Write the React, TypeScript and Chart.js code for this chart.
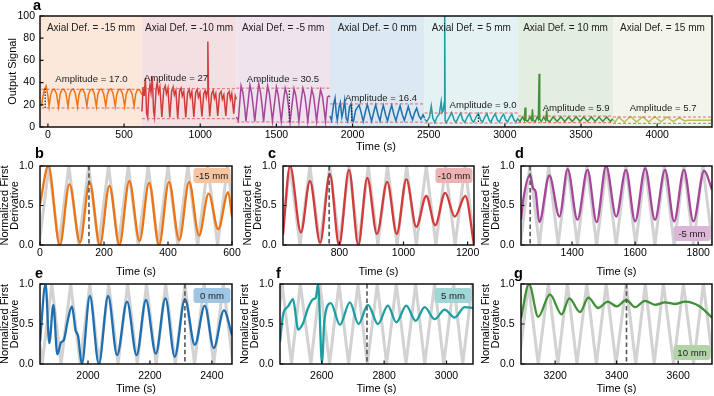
import React, { useEffect, useRef } from "react";
import { Chart, registerables } from "chart.js";

Chart.register(...registerables);

const FONT = "'Liberation Sans', Arial, Helvetica, sans-serif";
Chart.defaults.font.family = FONT;
Chart.defaults.color = "#000";

type Pt = [number, number];

// ---------------- Panel a : raw output signal ----------------
const aXTicks = [0, 500, 1000, 1500, 2000, 2500, 3000, 3500, 4000];
const aYTicks = [0, 20, 40, 60, 80, 100];
const aXRange = [-52, 4360];
const regionEdges = [-60, 617, 1237, 1852, 2473, 3087, 3710, 4400];
const regionNames = [
  "Axial Def. = -15 mm",
  "Axial Def. = -10 mm",
  "Axial Def. = -5 mm",
  "Axial Def. = 0 mm",
  "Axial Def. = 5 mm",
  "Axial Def. = 10 mm",
  "Axial Def. = 15 mm",
];
const amplitudeTexts = [
  "Amplitude = 17.0",
  "Amplitude = 27",
  "Amplitude = 30.5",
  "Amplitude = 16.4",
  "Amplitude = 9.0",
  "Amplitude = 5.9",
  "Amplitude = 5.7",
];
const bandUpper = [34, 34.5, 35, 20.8, 12.6, 9.8, 9.0];
const bandLower = [17.1, 7.5, 4.5, 4.4, 3.6, 3.9, 3.3];
const markerTimes = [-18, 1585, 1995, 2826];
const markerLow = [17.1, 4.5, 5.5, 4.5];
const markerHigh = [36, 34.6, 20.8, 12];

const sigM15: Pt[] = [[-42,19],[-35,26],[-25,33],[-12,37],[0,28],[8,18.5],[18,29],[30,33.5],[43,34],[56,30],[70,18.2],[80,29.5],[92,33.8],[105,34],[118,30.5],[132,18.6],[142,29],[154,33.4],[167,34.2],[180,30],[194,18.4],[204,29.6],[216,33.8],[229,34],[242,30.2],[256,18.8],[266,29.2],[278,33.5],[291,34.1],[304,30.4],[318,18.5],[328,29.5],[340,33.9],[353,34],[366,30.1],[380,18.9],[390,29.1],[402,33.6],[415,34.2],[428,30.3],[442,18.6],[452,29.4],[464,33.7],[477,33.9],[490,30],[504,18.7],[514,29.3],[526,33.6],[539,34],[552,30.2],[566,18.8],[576,29.5],[588,33.5],[601,33.6],[611,31],[617,29]];
const sigM10: Pt[] = [[617,14],[625,36],[632,28],[640,44],[648,12],[655,8.5],[662,30],[670,38],[677,31],[685,45],[694,14],[700,9],[710,34],[718,40],[726,31],[735,36],[748,9],[760,33],[770,37],[778,30],[788,35],[800,8.5],[812,32],[822,36],[830,29],[840,33],[852,8],[864,32],[874,35],[882,28],[892,32],[905,8.5],[917,31],[927,34],[935,27],[945,32],[958,9],[970,31],[980,34],[988,27],[998,31],[1011,9.5],[1023,30],[1033,33],[1040,27],[1046,32],[1050,77],[1054,30],[1062,9.5],[1075,30],[1085,33],[1093,26],[1102,30],[1115,10],[1127,30],[1137,32],[1145,25],[1155,29],[1168,10],[1180,30],[1190,32],[1198,25],[1207,30],[1220,12],[1230,28],[1237,25]];
const sigM5: Pt[] = [[1237,9],[1250,5.5],[1268,37],[1280,31],[1292,18],[1300,5],[1314,22],[1326,38],[1338,30],[1350,16],[1358,5],[1372,24],[1384,39],[1396,31],[1408,17],[1416,4.8],[1430,23],[1442,37],[1454,30],[1466,16],[1474,5.2],[1488,22],[1500,36],[1512,29],[1524,15],[1532,5],[1546,23],[1558,35],[1570,29],[1582,16],[1590,4.6],[1604,22],[1616,34.5],[1628,28],[1640,15],[1648,5],[1662,23],[1674,35],[1686,29],[1698,16],[1706,5.1],[1720,22],[1732,34],[1744,28],[1756,15],[1764,5],[1778,22],[1790,33.5],[1802,28],[1814,15],[1822,5.3],[1836,27],[1845,28],[1852,27]];
const sig0: Pt[] = [[1852,10],[1862,6],[1875,20],[1885,26],[1893,12],[1900,6],[1912,18],[1920,22],[1930,9],[1938,14],[1948,24],[1958,8],[1968,5],[1980,18],[1990,21],[1998,6],[2006,5],[2020,15],[2043,20],[2058,12],[2070,5],[2085,14],[2097,20.5],[2112,12],[2125,5.2],[2140,14],[2152,20],[2167,11],[2180,5.5],[2192,14],[2202,19.5],[2217,11],[2230,5.5],[2245,14],[2257,19.5],[2272,11],[2285,5.5],[2300,13.5],[2312,19],[2327,11],[2340,6],[2355,13],[2366,18.5],[2381,11],[2394,6.5],[2408,13],[2421,17],[2436,10],[2449,7],[2463,11],[2473,8]];
const sigP5: Pt[] = [[2473,7],[2488,5],[2505,9],[2517,19],[2527,8],[2540,4],[2555,9],[2570,12],[2582,23],[2588,13],[2596,15],[2602,22],[2605,110],[2608,6],[2615,4],[2632,8],[2651,13],[2668,6],[2680,4.2],[2695,9],[2710,12.5],[2725,6],[2738,4.3],[2753,9],[2768,12],[2783,6],[2796,4.4],[2811,9],[2826,12.2],[2841,6],[2854,4.5],[2868,9],[2882,12],[2897,6],[2909,4.4],[2923,9],[2937,11.8],[2952,6],[2964,4.5],[2978,9],[2992,11.5],[3007,6],[3019,4.6],[3033,9],[3046,11.5],[3061,6],[3073,4.6],[3087,8]];
const sigP10: Pt[] = [[3087,7],[3100,5],[3115,9],[3128,6],[3133,17.5],[3138,6],[3150,5],[3165,9],[3176,6],[3181,16],[3186,6],[3200,5],[3212,9],[3220,7],[3225,48],[3229,7],[3240,5],[3255,9],[3268,6],[3275,15],[3280,6],[3295,4.8],[3318,9.2],[3343,5],[3368,9.3],[3393,5],[3418,9.1],[3443,5],[3468,9.2],[3493,5.1],[3518,9],[3543,5],[3568,9.1],[3593,5],[3618,8.9],[3643,5],[3668,9],[3693,5.1],[3710,7.5]];
const sigP15: Pt[] = [[3710,6],[3725,4.5],[3745,9],[3785,4.5],[3825,9.5],[3865,4.5],[3905,9.3],[3945,4.6],[3985,9.2],[4025,4.6],[4065,9],[4105,4.8],[4145,8.5],[4180,5.5],[4200,6],[4360,6]];

// ---------------- Panels b-g : normalized first derivative ----------------
const normTicks = [0, 0.5, 1];
const bTicks = [0, 200, 400, 600];
const cTicks = [800, 1000, 1200];
const dTicks = [1400, 1600, 1800];
const eTicks = [2000, 2200, 2400];
const fTicks = [2600, 2800, 3000];
const gTicks = [3200, 3400, 3600];

const derivB: Pt[] = [[0,0.52],[26,1.0],[62,0.0],[92,0.77],[125,0.03],[155,0.8],[187,0.0],[217,0.75],[248,0.0],[279,0.81],[311,0.05],[341,0.79],[372,0.0],[403,0.8],[435,0.06],[466,0.8],[497,0.12],[527,0.65],[557,0.2],[588,0.67],[600,0.36]];
const triB: Pt[] = [[-3,0],[28,1],[59,0],[90,1],[121,0],[152,1],[183,0],[214,1],[245,0],[276,1],[307,0],[338,1],[369,0],[400,1],[431,0],[462,1],[493,0],[524,1],[555,0],[586,1],[617,0]];
const derivC: Pt[] = [[624,0.13],[646,1.0],[680,0.16],[708,0.81],[740,0.03],[770,0.9],[799,0.0],[830,0.95],[859,0.0],[887,0.85],[917,0.14],[949,0.8],[979,0.14],[1009,0.83],[1040,0.23],[1071,0.62],[1099,0.25],[1130,0.66],[1160,0.36],[1193,0.62],[1220,0.0]];
const triC: Pt[] = [[615,0],[646,1],[677,0],[708,1],[739,0],[770,1],[800,0],[830,1],[860,0],[890,1],[920,0],[950,1],[980,0],[1010,1],[1040,0],[1071,1],[1101,0],[1131,1],[1161,0],[1192,1],[1222,0]];
const derivD: Pt[] = [[1238,0.32],[1245,0.57],[1267,0.89],[1276,0.72],[1284,0.68],[1296,0.29],[1328,0.88],[1360,0.36],[1386,0.96],[1417,0.32],[1449,0.95],[1478,0.29],[1508,1.0],[1540,0.36],[1571,0.95],[1600,0.3],[1632,0.97],[1663,0.32],[1695,0.95],[1724,0.3],[1755,0.95],[1785,0.3],[1819,0.94],[1844,0.7]];
const triD: Pt[] = [[1236,0],[1266,1],[1296,0],[1326,1],[1356,0],[1386,1],[1417,0],[1447,1],[1478,0],[1509,1],[1540,0],[1571,1],[1602,0],[1632,1],[1663,0],[1693,1],[1724,0],[1755,1],[1785,0],[1815,1],[1846,0]];
const derivE: Pt[] = [[1845,0.28],[1863,1.0],[1875,0.26],[1888,0.74],[1901,0.12],[1913,0.27],[1922,0.3],[1935,0.55],[1948,0.72],[1960,0.42],[1968,0.35],[1980,0.0],[2006,0.85],[2035,0.0],[2065,0.85],[2094,0.11],[2126,0.78],[2157,0.11],[2187,0.8],[2219,0.13],[2250,0.82],[2280,0.09],[2313,0.81],[2345,0.24],[2377,0.73],[2406,0.2],[2439,0.67],[2465,0.36]];
const triE: Pt[] = [[1822,1],[1852,0],[1883,1],[1913,0],[1944,1],[1975,0],[2006,1],[2036,0],[2067,1],[2097,0],[2128,1],[2159,0],[2189,1],[2220,0],[2251,1],[2282,0],[2313,1],[2344,0],[2375,1],[2406,0],[2437,1],[2468,0]];
const derivF: Pt[] = [[2466,0.28],[2476,0.62],[2492,0.72],[2508,0.81],[2519,0.53],[2524,0.43],[2540,0.51],[2556,0.7],[2572,0.81],[2581,0.83],[2588,1.0],[2601,0.0],[2608,0.53],[2629,0.76],[2658,0.49],[2690,0.77],[2718,0.5],[2748,0.74],[2780,0.5],[2812,0.73],[2839,0.52],[2871,0.73],[2901,0.54],[2930,0.71],[2962,0.56],[2994,0.68],[3026,0.58],[3058,0.71],[3085,0.7]];
const triF: Pt[] = [[2443,0],[2473,1],[2503,0],[2531,1],[2565,0],[2594,1],[2625,0],[2655,1],[2686,0],[2716,1],[2746,0],[2778,1],[2808,0],[2839,1],[2870,0],[2901,1],[2930,0],[2962,1],[2991,0],[3023,1],[3052,0],[3083,1]];
const derivG: Pt[] = [[3089,0.57],[3115,1.0],[3145,0.59],[3183,0.87],[3221,0.62],[3246,0.82],[3281,0.65],[3308,0.83],[3340,0.7],[3371,0.78],[3400,0.72],[3431,0.8],[3460,0.71],[3492,0.79],[3525,0.74],[3557,0.77],[3589,0.75],[3622,0.78],[3670,0.72],[3710,0.58]];
const triG: Pt[] = [[3082,0],[3113,1],[3145,0],[3178,1],[3209,0],[3240,1],[3271,0],[3303,1],[3334,0],[3366,1],[3398,0],[3431,1],[3462,0],[3493,1],[3522,0],[3552,1],[3585,0],[3617,1],[3650,0],[3682,1],[3713,0]];
const dashTimes = [153, 768, 1267, 2313, 2745, 3432];
const badgeTexts = ["-15 mm", "-10 mm", "-5 mm", "0 mm", "5 mm", "10 mm"];

// ---------------- styles ----------------
const C_ORANGE = "#ee7412";
const C_RED = "#d33a3c";
const C_PURPLE = "#a5469b";
const C_BLUE = "#1f6fb0";
const C_TEAL = "#1c9ea3";
const C_GREEN = "#3e9134";
const C_OLIVE = "#b5c157";
const regionColors = ["#fbe8da", "#f4e0e3", "#efe3ee", "#dce9f2", "#e4f2f4", "#e3ede0", "#f4f5ea"];
const regionLineColors = [C_ORANGE, C_RED, C_PURPLE, C_BLUE, C_TEAL, C_GREEN, C_OLIVE];
const amplitudeAnchor: Pt[] = [[286, 42.5], [841, 43.9], [1543, 43], [2187, 25.4], [2857, 19.1], [3468, 16.4], [4039, 16.4]];
const regionLabelY = 89;

const toXY = (arr: Pt[]) => arr.map(([x, y]) => ({ x, y }));

function drawFrame(chart: any, xTicks: number[], yTicks: number[]) {
  const { ctx, chartArea: ca, scales } = chart;
  ctx.save();
  ctx.strokeStyle = "#111";
  ctx.lineWidth = 1.5;
  ctx.strokeRect(ca.left, ca.top, ca.right - ca.left, ca.bottom - ca.top);
  ctx.lineWidth = 1.2;
  ctx.beginPath();
  for (const v of xTicks) {
    const px = scales.x.getPixelForValue(v);
    ctx.moveTo(px, ca.bottom);
    ctx.lineTo(px, ca.bottom - 3.5);
  }
  for (const v of yTicks) {
    const py = scales.y.getPixelForValue(v);
    ctx.moveTo(ca.left, py);
    ctx.lineTo(ca.left + 3.5, py);
  }
  ctx.stroke();
  ctx.restore();
}

function drawLetter(chart: any, letter: string, x: number, y: number) {
  const ctx = chart.ctx;
  ctx.save();
  ctx.font = `bold 14.5px ${FONT}`;
  ctx.fillStyle = "#000";
  ctx.textBaseline = "alphabetic";
  ctx.textAlign = "left";
  ctx.fillText(letter, x, y);
  ctx.restore();
}

type AxisOpts = {
  xMin: number; xMax: number; xTicks: number[];
  yMin: number; yMax: number; yTicks: number[];
  yFmt: (v: number) => string;
  yTitle: string | string[]; yTitleLH: number; yTitlePad: number;
  yWidth: number; yTickPad: number;
  xHeight: number; xTickPad: number; xTitlePad: number;
};

function makeScales(o: AxisOpts) {
  return {
    x: {
      type: "linear",
      min: o.xMin,
      max: o.xMax,
      afterBuildTicks: (s: any) => { s.ticks = o.xTicks.map((v) => ({ value: v })); },
      afterFit: (s: any) => { s.height = o.xHeight; },
      grid: { display: false, drawTicks: false },
      border: { display: false },
      ticks: { font: { size: 10.5, family: FONT }, color: "#000", padding: o.xTickPad, maxRotation: 0, autoSkip: false, callback: (v: any) => String(v) },
      title: { display: true, text: "Time (s)", font: { size: 11, family: FONT }, color: "#000", padding: { top: 0, bottom: o.xTitlePad } },
    },
    y: {
      type: "linear",
      min: o.yMin,
      max: o.yMax,
      afterBuildTicks: (s: any) => { s.ticks = o.yTicks.map((v) => ({ value: v })); },
      afterFit: (s: any) => { s.width = o.yWidth; },
      grid: { display: false, drawTicks: false },
      border: { display: false },
      ticks: { font: { size: 10.5, family: FONT }, color: "#000", padding: o.yTickPad, autoSkip: false, callback: (v: any) => o.yFmt(Number(v)) },
      title: { display: true, text: o.yTitle, font: { size: 11, family: FONT, lineHeight: o.yTitleLH }, color: "#000", padding: { top: o.yTitlePad, bottom: 0 } },
    },
  };
}

type Box = { x: number; y: number; w: number; h: number };

function ChartBox({ box, build }: { box: Box; build: () => any }) {
  const ref = useRef<HTMLCanvasElement>(null);
  useEffect(() => {
    const chart = new Chart(ref.current as HTMLCanvasElement, build());
    return () => chart.destroy();
  }, []);
  return (
    <canvas
      ref={ref}
      width={box.w}
      height={box.h}
      style={{ position: "absolute", left: box.x, top: box.y, width: box.w, height: box.h }}
    />
  );
}

// ---------------- Panel a config ----------------
const boxA: Box = { x: 0, y: 0, w: 714, h: 156 };

function buildA() {
  const signals = [sigM15, sigM10, sigM5, sig0, sigP5, sigP10, sigP15];
  const datasets: any[] = [];
  signals.forEach((s, i) => {
    datasets.push({ data: toXY(s), borderColor: regionLineColors[i], borderWidth: 1.5, pointRadius: 0, tension: 0, order: 2 });
  });
  for (let i = 0; i < 7; i++) {
    const x0 = Math.max(regionEdges[i], -42);
    const x1 = Math.min(regionEdges[i + 1], aXRange[1]);
    for (const yv of [bandUpper[i], bandLower[i]]) {
      datasets.push({ data: [{ x: x0, y: yv }, { x: x1, y: yv }], borderColor: "rgba(226,80,90,0.85)", borderWidth: 1, borderDash: [3, 2], pointRadius: 0, order: 1 });
    }
  }
  markerTimes.forEach((t, i) => {
    datasets.push({ data: [{ x: t, y: markerLow[i] }, { x: t, y: markerHigh[i] }], borderColor: "#222", borderWidth: 1.2, borderDash: [1.5, 1.5], pointRadius: 0, order: 0 });
  });

  const plugin = {
    id: "panelA",
    beforeDatasetsDraw(chart: any) {
      const { ctx, chartArea: ca, scales } = chart;
      ctx.save();
      ctx.beginPath();
      ctx.rect(ca.left, ca.top, ca.right - ca.left, ca.bottom - ca.top);
      ctx.clip();
      for (let i = 0; i < regionColors.length; i++) {
        const x0 = scales.x.getPixelForValue(regionEdges[i]);
        const x1 = scales.x.getPixelForValue(regionEdges[i + 1]);
        ctx.fillStyle = regionColors[i];
        ctx.fillRect(x0, ca.top, x1 - x0, ca.bottom - ca.top);
      }
      ctx.restore();
    },
    afterDatasetsDraw(chart: any) {
      const { ctx, scales } = chart;
      ctx.save();
      ctx.fillStyle = "#222";
      ctx.textAlign = "center";
      ctx.textBaseline = "middle";
      ctx.font = `10px ${FONT}`;
      for (let i = 0; i < regionNames.length; i++) {
        const a = Math.max(regionEdges[i], aXRange[0]);
        const b = Math.min(regionEdges[i + 1], aXRange[1]);
        const cx = (scales.x.getPixelForValue(a) + scales.x.getPixelForValue(b)) / 2;
        ctx.fillText(regionNames[i], cx, scales.y.getPixelForValue(regionLabelY));
      }
      ctx.font = `9.6px ${FONT}`;
      amplitudeTexts.forEach((t, i) => {
        ctx.fillText(t, scales.x.getPixelForValue(amplitudeAnchor[i][0]), scales.y.getPixelForValue(amplitudeAnchor[i][1]));
      });
      ctx.restore();
      drawFrame(chart, aXTicks, aYTicks);
    },
    afterDraw(chart: any) {
      drawLetter(chart, "a", 33 - boxA.x, 10 - boxA.y);
    },
  };

  return {
    type: "line",
    data: { datasets },
    options: {
      animation: false,
      responsive: false,
      events: [],
      layout: { autoPadding: false, padding: { left: 0, top: 16, right: 2, bottom: 0 } },
      plugins: { legend: { display: false }, tooltip: { enabled: false } },
      scales: makeScales({
        xMin: aXRange[0], xMax: aXRange[1], xTicks: aXTicks,
        yMin: 0, yMax: 100, yTicks: aYTicks, yFmt: (v) => String(v),
        yTitle: "Output Signal", yTitleLH: 1.2, yTitlePad: 5.9,
        yWidth: 40, yTickPad: 5,
        xHeight: 29, xTickPad: 1.7, xTitlePad: 2.4,
      }),
    },
    plugins: [plugin],
  };
}

// ---------------- Panels b-g config ----------------
type Small = {
  letter: string; letterPos: Pt;
  curve: Pt[]; tri: Pt[]; color: string;
  badge: string; badgeColor: string; badgeAt: "top" | "bottom";
  dash: number; xMin: number; xMax: number; xTicks: number[];
  L: number; R: number; row: 1 | 2;
};

const smallPanels: Small[] = [
  { letter: "b", letterPos: [35, 158], curve: derivB, tri: triB, color: C_ORANGE, badge: badgeTexts[0], badgeColor: "#f6c4a0", badgeAt: "top", dash: dashTimes[0], xMin: 0, xMax: 600, xTicks: bTicks, L: 40, R: 232, row: 1 },
  { letter: "c", letterPos: [268, 158], curve: derivC, tri: triC, color: C_RED, badge: badgeTexts[1], badgeColor: "#edb2b2", badgeAt: "top", dash: dashTimes[1], xMin: 624, xMax: 1220, xTicks: cTicks, L: 283, R: 474, row: 1 },
  { letter: "d", letterPos: [515, 158], curve: derivD, tri: triD, color: C_PURPLE, badge: badgeTexts[2], badgeColor: "#dbb6d6", badgeAt: "bottom", dash: dashTimes[2], xMin: 1238, xMax: 1844, xTicks: dTicks, L: 521, R: 712, row: 1 },
  { letter: "e", letterPos: [35, 277.5], curve: derivE, tri: triE, color: C_BLUE, badge: badgeTexts[3], badgeColor: "#9fc6e4", badgeAt: "top", dash: dashTimes[3], xMin: 1845, xMax: 2465, xTicks: eTicks, L: 40, R: 232, row: 2 },
  { letter: "f", letterPos: [276, 277.5], curve: derivF, tri: triF, color: C_TEAL, badge: badgeTexts[4], badgeColor: "#9fd6d6", badgeAt: "top", dash: dashTimes[4], xMin: 2466, xMax: 3085, xTicks: fTicks, L: 280, R: 473, row: 2 },
  { letter: "g", letterPos: [514, 277.5], curve: derivG, tri: triG, color: C_GREEN, badge: badgeTexts[5], badgeColor: "#b3d4a6", badgeAt: "bottom", dash: dashTimes[5], xMin: 3089, xMax: 3710, xTicks: gTicks, L: 521, R: 712, row: 2 },
];

const rowSpec = {
  1: { top: 140, h: 140, T: 166, B: 245, xTickPad: 2.2, xTitlePad: 1.9, badgeTopInset: 2 },
  2: { top: 262, h: 134, T: 284, B: 364, xTickPad: 5.7, xTitlePad: 0, badgeTopInset: 4 },
};

function smallBox(p: Small): Box {
  const r = rowSpec[p.row];
  const pr = p.R >= 710 ? 2 : 12;
  return { x: p.L - 45, y: r.top, w: p.R - p.L + 45 + pr, h: r.h };
}

function roundRect(ctx: any, x: number, y: number, w: number, h: number, r: number) {
  ctx.beginPath();
  ctx.moveTo(x + r, y);
  ctx.lineTo(x + w - r, y);
  ctx.quadraticCurveTo(x + w, y, x + w, y + r);
  ctx.lineTo(x + w, y + h - r);
  ctx.quadraticCurveTo(x + w, y + h, x + w - r, y + h);
  ctx.lineTo(x + r, y + h);
  ctx.quadraticCurveTo(x, y + h, x, y + h - r);
  ctx.lineTo(x, y + r);
  ctx.quadraticCurveTo(x, y, x + r, y);
  ctx.closePath();
}

function buildSmall(p: Small) {
  const r = rowSpec[p.row];
  const box = smallBox(p);
  const pr = box.w - (p.R - box.x);
  const plugin = {
    id: "small" + p.letter,
    afterDatasetsDraw(chart: any) {
      const { ctx, chartArea: ca, scales } = chart;
      ctx.save();
      const dx = scales.x.getPixelForValue(p.dash);
      ctx.strokeStyle = "#555";
      ctx.lineWidth = 1.6;
      ctx.setLineDash([4.5, 2.8]);
      ctx.beginPath();
      ctx.moveTo(dx, ca.top);
      ctx.lineTo(dx, ca.bottom);
      ctx.stroke();
      ctx.setLineDash([]);
      const bw = 37, bh = 15;
      const bx = ca.right - 1.5 - bw;
      const by = p.badgeAt === "top" ? ca.top + r.badgeTopInset : ca.bottom - 4 - bh;
      ctx.fillStyle = p.badgeColor;
      roundRect(ctx, bx, by, bw, bh, 3);
      ctx.fill();
      ctx.fillStyle = "#222";
      ctx.font = `9.6px ${FONT}`;
      ctx.textAlign = "center";
      ctx.textBaseline = "middle";
      ctx.fillText(p.badge, bx + bw / 2, by + bh / 2 + 0.5);
      ctx.restore();
      drawFrame(chart, p.xTicks, normTicks);
    },
    afterDraw(chart: any) {
      drawLetter(chart, p.letter, p.letterPos[0] - box.x, p.letterPos[1] - box.y);
    },
  };
  return {
    type: "line",
    data: {
      datasets: [
        { data: toXY(p.curve), borderColor: p.color, borderWidth: 2.3, pointRadius: 0, cubicInterpolationMode: "monotone", order: 0 },
        { data: toXY(p.tri), borderColor: "#d2d2d2", borderWidth: 3, pointRadius: 0, tension: 0, order: 1 },
      ],
    },
    options: {
      animation: false,
      responsive: false,
      events: [],
      layout: { autoPadding: false, padding: { left: 0, top: r.T - r.top, right: pr, bottom: 0 } },
      plugins: { legend: { display: false }, tooltip: { enabled: false } },
      scales: makeScales({
        xMin: p.xMin, xMax: p.xMax, xTicks: p.xTicks,
        yMin: 0, yMax: 1, yTicks: normTicks, yFmt: (v) => v.toFixed(1),
        yTitle: ["Normalized First", "Derivative"], yTitleLH: 0.95, yTitlePad: 4.3,
        yWidth: 45, yTickPad: 6.5,
        xHeight: r.top + r.h - r.B, xTickPad: r.xTickPad, xTitlePad: r.xTitlePad,
      }),
    },
    plugins: [plugin],
  };
}

export default function App() {
  return (
    <div style={{ position: "fixed", left: 0, top: 0, width: 714, height: 396, background: "#fff", overflow: "hidden" }}>
      <ChartBox box={boxA} build={buildA} />
      {smallPanels.map((p) => (
        <ChartBox key={p.letter} box={smallBox(p)} build={() => buildSmall(p)} />
      ))}
    </div>
  );
}
